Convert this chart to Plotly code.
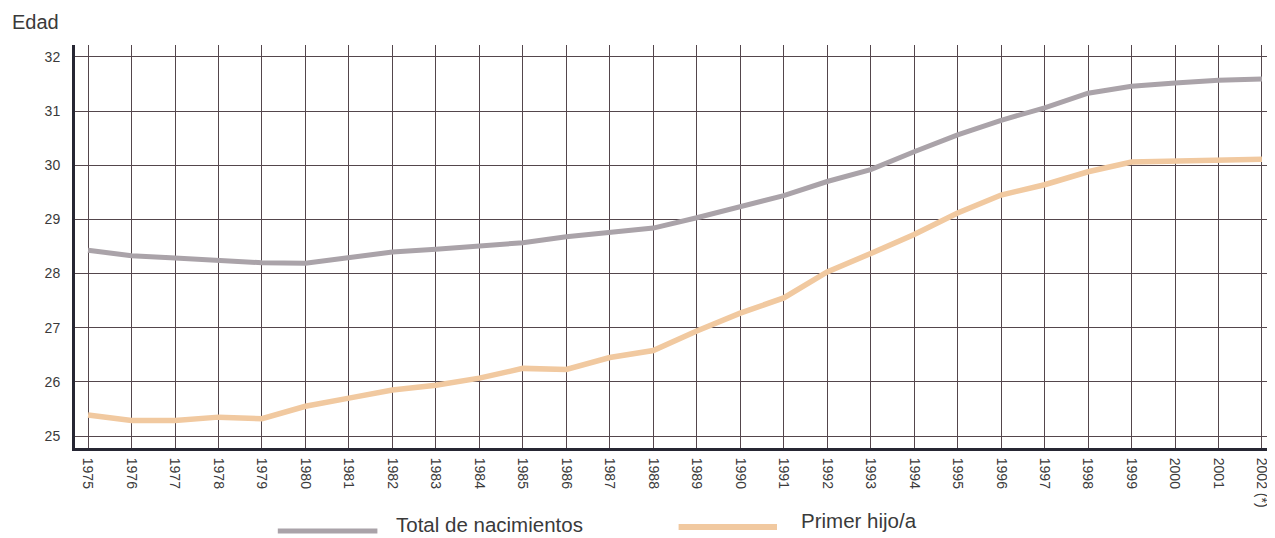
import plotly.graph_objects as go

years = list(range(1975, 2003))
year_labels = [str(y) for y in range(1975, 2002)] + ["2002 (*)"]

total_nacimientos = [28.43, 28.33, 28.29, 28.25, 28.20, 28.19, 28.29, 28.40, 28.45,
                     28.50, 28.57, 28.68, 28.77, 28.84, 29.03, 29.24, 29.44, 29.70,
                     29.92, 30.25, 30.56, 30.83, 31.06, 31.33, 31.46, 31.52, 31.57, 31.59]
primer_hijo = [25.39, 25.29, 25.29, 25.35, 25.32, 25.55, 25.70, 25.85, 25.94,
               26.07, 26.25, 26.23, 26.45, 26.58, 26.94, 27.27, 27.55, 28.03,
               28.37, 28.72, 29.12, 29.45, 29.64, 29.88, 30.06, 30.08, 30.10, 30.11]

y_ticks = [25, 26, 27, 28, 29, 30, 31, 32]

GRAY = "#aaa3a9"
PEACH = "#f1c9a0"
GRID = "#54464c"
AXIS = "#262633"
TXT = "#3a3a3a"
FONT = "Liberation Sans, Arial, sans-serif"

fig = go.Figure()
fig.add_trace(go.Scatter(x=years, y=total_nacimientos, mode="lines",
                         line=dict(color=GRAY, width=5), name="Total de nacimientos",
                         showlegend=False))
fig.add_trace(go.Scatter(x=years, y=primer_hijo, mode="lines",
                         line=dict(color=PEACH, width=5.5), name="Primer hijo/a",
                         showlegend=False))

# the page body has an 8px margin, so the figure is sized/offset to compensate
fig.update_layout(
    width=1267, height=530,
    margin=dict(l=67, r=0, t=37, b=90),
    paper_bgcolor="white", plot_bgcolor="white",
    font=dict(family=FONT, color=TXT),
    xaxis=dict(range=[1974.7, 2002.3], tickmode="array", tickvals=years,
               ticktext=year_labels, tickangle=90, tickfont=dict(size=14, color=TXT),
               showgrid=True, gridcolor=GRID, gridwidth=1, zeroline=False,
               showline=True, linecolor=AXIS, linewidth=3, ticks="", ticklabelstandoff=4),
    yaxis=dict(range=[24.78, 32.22], tickmode="array", tickvals=y_ticks,
               tickfont=dict(size=14, color=TXT),
               showgrid=True, gridcolor=GRID, gridwidth=1, zeroline=False,
               showline=True, linecolor=AXIS, linewidth=3, ticks="", ticklabelstandoff=9),
)

fig.add_annotation(text="Edad", xref="paper", yref="paper", x=-0.054, y=1.057,
                   xanchor="left", yanchor="middle", showarrow=False,
                   font=dict(size=20, color=TXT, family=FONT))

# manual legend
fig.add_shape(type="line", xref="paper", yref="paper", x0=0.169, x1=0.252,
              y0=-0.206, y1=-0.206, line=dict(color=GRAY, width=5))
fig.add_annotation(text="Total de nacimientos", xref="paper", yref="paper",
                   x=0.266, y=-0.190, xanchor="left", yanchor="middle", showarrow=False,
                   font=dict(size=20.5, color=TXT, family=FONT))
fig.add_shape(type="line", xref="paper", yref="paper", x0=0.503, x1=0.585,
              y0=-0.196, y1=-0.196, line=dict(color=PEACH, width=6))
fig.add_annotation(text="Primer hijo/a", xref="paper", yref="paper",
                   x=0.603, y=-0.179, xanchor="left", yanchor="middle", showarrow=False,
                   font=dict(size=20.5, color=TXT, family=FONT))

fig.write_html("out.html")
